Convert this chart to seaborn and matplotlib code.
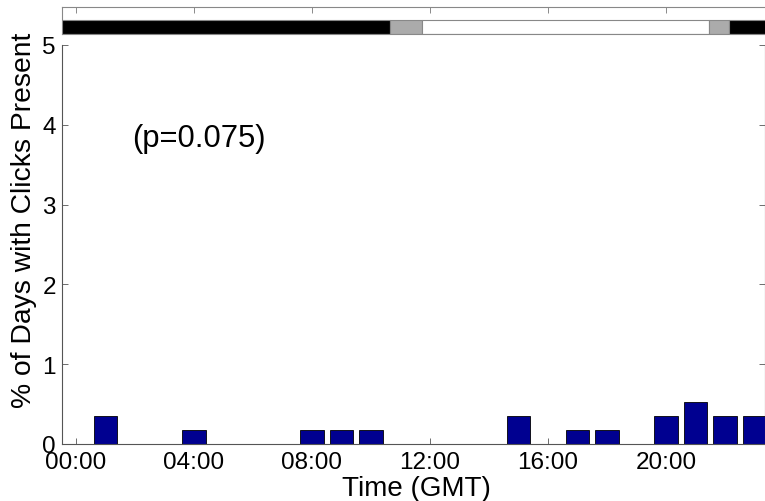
import matplotlib
matplotlib.use("Agg")
import matplotlib.pyplot as plt
import seaborn as sns
import pandas as pd

# ---- data ----
hours = list(range(24))
pct_days = [0, 0.35, 0, 0, 0.175, 0, 0, 0, 0.175, 0.175, 0.175, 0,
            0, 0, 0, 0.35, 0, 0.175, 0.175, 0, 0.35, 0.525, 0.35, 0.35]
tick_hours = [0, 4, 8, 12, 16, 20]
tick_labels = ["00:00", "04:00", "08:00", "12:00", "16:00", "20:00"]
ytick_vals = [0, 1, 2, 3, 4, 5]

# light regime bar (night / twilight / day)
light_start = [-0.5, 10.65, 11.75, 21.45, 22.15]
light_end = [10.65, 11.75, 21.45, 22.15, 24.0]
light_color = ["black", "#ababab", "white", "#ababab", "black"]

annot = "(p=0.075)"
xlabel = "Time (GMT)"
ylabel = "% of Days with Clicks Present"

sns.set_style("white")
plt.rcParams["font.family"] = ["Liberation Sans", "DejaVu Sans"]
plt.rcParams["text.color"] = "black"
plt.rcParams["axes.labelcolor"] = "black"
plt.rcParams["xtick.color"] = "black"
plt.rcParams["ytick.color"] = "black"

W, H = 765, 502
fig = plt.figure(figsize=(W / 100, H / 100), dpi=100)

x0, x1 = 62, 765
xlim = (-0.47, 23.36)

# main axes
ax = fig.add_axes([x0 / W, (H - 445) / H, (x1 - x0) / W, (445 - 46) / H])
df = pd.DataFrame({"hour": hours, "pct": pct_days})
sns.barplot(data=df, x="hour", y="pct", order=hours, color="#000090",
            saturation=1, width=0.8, edgecolor="black", linewidth=0.6, ax=ax)
ax.set_xlim(*xlim)
ax.set_ylim(0, 5)
ax.set_xticks(tick_hours)
ax.set_xticklabels(tick_labels)
ax.set_yticks(ytick_vals)
ax.tick_params(axis="both", direction="in", length=4, width=0.6, color="#555555",
               labelcolor="black", labelsize=17.5, top=False, right=True,
               bottom=True, left=True)
ax.tick_params(axis="x", pad=5)
ax.tick_params(axis="y", pad=4.5)
for s in ["left", "bottom", "right"]:
    ax.spines[s].set_color("#555555")
    ax.spines[s].set_linewidth(0.8)
ax.spines["top"].set_visible(False)
ax.set_xlabel(xlabel, fontsize=20, color="black")
ax.set_ylabel(ylabel, fontsize=20.3, color="black")
ax.xaxis.set_label_coords(0.504, -0.078)
ax.xaxis.label.set_va("top")
ax.yaxis.set_label_coords(-0.036, 0.564)
ax.text(1.9, 3.83, annot, fontsize=22.3, ha="left", va="center", color="black")

# light regime axes
axt = fig.add_axes([x0 / W, (H - 35) / H, (x1 - x0) / W, (35 - 8) / H])
widths = [e - s for s, e in zip(light_start, light_end)]
axt.barh([0.26] * len(widths), widths, left=light_start, height=0.52,
         color=light_color, edgecolor="#888888", linewidth=0.8)
axt.set_xlim(*xlim)
axt.set_ylim(0, 1)
axt.set_xticks(tick_hours)
axt.set_xticklabels([])
axt.set_yticks([])
axt.tick_params(axis="x", direction="in", length=4, width=0.6, color="#777777",
                top=True, bottom=False, labeltop=False, labelbottom=False)
for s in axt.spines.values():
    s.set_color("#888888")
    s.set_linewidth(0.8)
axt.spines["right"].set_visible(False)

fig.savefig("out.png", dpi=100)
